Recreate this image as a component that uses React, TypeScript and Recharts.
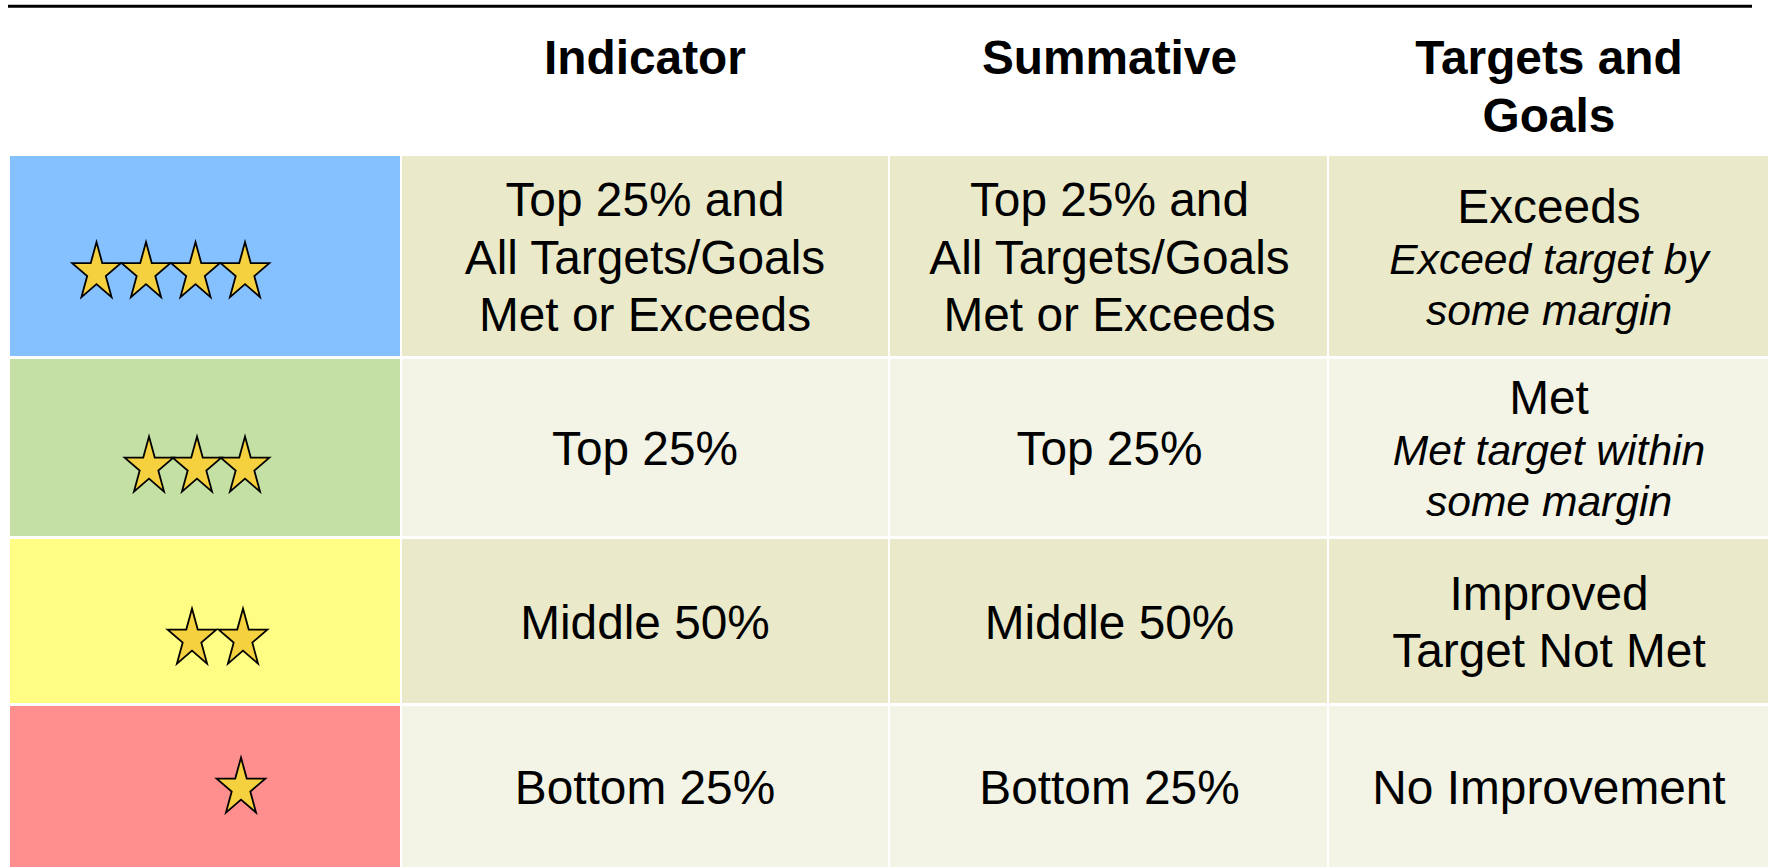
import React from "react";
import {
  ScatterChart,
  Scatter,
  XAxis,
  YAxis,
  ReferenceArea,
  ReferenceLine,
} from "recharts";

// ---------------- data ----------------
const headers: string[][] = [[], ["Indicator"], ["Summative"], ["Targets and", "Goals"]];
const starCounts: number[] = [4, 3, 2, 1];
const indicatorText: string[][] = [
  ["Top 25% and", "All Targets/Goals", "Met or Exceeds"],
  ["Top 25%"],
  ["Middle 50%"],
  ["Bottom 25%"],
];
const summativeText: string[][] = [
  ["Top 25% and", "All Targets/Goals", "Met or Exceeds"],
  ["Top 25%"],
  ["Middle 50%"],
  ["Bottom 25%"],
];
const targetTitle: string[][] = [["Exceeds"], ["Met"], ["Improved", "Target Not Met"], ["No Improvement"]];
const targetNote: string[][] = [["Exceed target by", "some margin"], ["Met target within", "some margin"], [], []];

// ---------------- layout & style ----------------
const W = 1768;
const H = 867;
const COL_EDGES = [10, 402, 890, 1329, 1771];
const COL_GAP = 2;
const ROW_EDGES = [156, 359, 539, 706, 870];
const ROW_GAP = 3;
const TEXT_SHIFT = [0, 0, 1, 0];
const HEADER_TOP = 8;
const HEADER_BOTTOM = 153;
const HEADER_FIRST_BASELINE = 66;
const TIER_COLORS = ["#86C1FF", "#C4E0A4", "#FFFD83", "#FF8F8E"];
const ROW_COLORS = ["#EAEACB", "#F3F4E5", "#EAEACB", "#F3F4E5"];
const STAR_CY = [272.5, 467, 639, 788];
const STAR_RIGHT = [245, 245, 243, 241];
const STAR_SPACING = [49.5, 48, 51, 0];
const STAR_RX = 25.6;
const STAR_RY = 30.4;
const FONT = "'Liberation Sans', Arial, Helvetica, sans-serif";
const FS = 47.8;
const FS_IT = 42.6;
const LINE_REG = 57.5;
const LINE_IT = 51;
const BASE_OFFSET = 17.5;

type Line = { text: string; italic?: boolean; bold?: boolean };

const starPoints = starCounts.flatMap((n, r) =>
  Array.from({ length: n }, (_, k) => ({
    x: STAR_RIGHT[r] - (n - 1 - k) * STAR_SPACING[r],
    y: STAR_CY[r],
  }))
);

function starPath(cx: number, cy: number) {
  const pts: string[] = [];
  const inner = 0.382;
  for (let i = 0; i < 10; i++) {
    const ang = -Math.PI / 2 + (i * Math.PI) / 5;
    const f = i % 2 === 0 ? 1 : inner;
    pts.push(`${(cx + Math.cos(ang) * STAR_RX * f).toFixed(2)},${(cy + Math.sin(ang) * STAR_RY * f).toFixed(2)}`);
  }
  return `M${pts.join("L")}Z`;
}

const StarShape = (props: any) => {
  const { cx, cy } = props;
  if (cx == null || cy == null) return <g />;
  return <path d={starPath(cx, cy)} fill="#F6D13F" stroke="#000" strokeWidth={1.8} strokeLinejoin="miter" />;
};

function gapAfter(a: Line, b: Line) {
  return a.italic || b.italic ? LINE_IT : LINE_REG;
}

function renderLines(lines: Line[], cx: number, firstBaseline: number) {
  let y = firstBaseline;
  return lines.map((l, i) => {
    if (i > 0) y += gapAfter(lines[i - 1], l);
    return (
      <text
        key={i}
        x={cx}
        y={y}
        textAnchor="middle"
        fontFamily={FONT}
        fontSize={l.italic ? FS_IT : FS}
        fontStyle={l.italic ? "italic" : "normal"}
        fontWeight={l.bold ? "bold" : "normal"}
        fill="#000"
      >
        {l.text}
      </text>
    );
  });
}

function cellLines(r: number, c: number): Line[] {
  if (c === 1) return indicatorText[r].map((t) => ({ text: t }));
  if (c === 2) return summativeText[r].map((t) => ({ text: t }));
  if (c === 3)
    return [
      ...targetTitle[r].map((t) => ({ text: t })),
      ...targetNote[r].map((t) => ({ text: t, italic: true })),
    ];
  return [];
}

const makeCellShape = (r: number, c: number) => (p: any) => {
  const { x, y, width, height } = p;
  const lines = cellLines(r, c);
  let span = 0;
  for (let i = 1; i < lines.length; i++) span += gapAfter(lines[i - 1], lines[i]);
  const cy = y + height / 2;
  const first = cy + BASE_OFFSET - span / 2;
  return (
    <g>
      <rect x={x} y={y} width={width} height={height} fill={c === 0 ? TIER_COLORS[r] : ROW_COLORS[r]} />
      {renderLines(lines, x + width / 2 + TEXT_SHIFT[c], first)}
    </g>
  );
};

const makeHeaderShape = (c: number) => (p: any) => {
  const { x, y, width } = p;
  const lines = headers[c].map((t) => ({ text: t, bold: true }));
  return <g>{renderLines(lines, x + width / 2 + TEXT_SHIFT[c], y + HEADER_FIRST_BASELINE)}</g>;
};

export default function App() {
  const cells: React.ReactNode[] = [];
  for (let c = 0; c < 4; c++) {
    cells.push(
      <ReferenceArea
        key={`h${c}`}
        x1={COL_EDGES[c]}
        x2={COL_EDGES[c + 1] - COL_GAP}
        y1={HEADER_TOP}
        y2={HEADER_BOTTOM}
        ifOverflow="visible"
        shape={makeHeaderShape(c)}
      />
    );
  }
  for (let r = 0; r < 4; r++) {
    for (let c = 0; c < 4; c++) {
      cells.push(
        <ReferenceArea
          key={`c${r}-${c}`}
          x1={COL_EDGES[c]}
          x2={COL_EDGES[c + 1] - COL_GAP}
          y1={ROW_EDGES[r]}
          y2={ROW_EDGES[r + 1] - ROW_GAP}
          ifOverflow="visible"
          shape={makeCellShape(r, c)}
        />
      );
    }
  }
  return (
    <div style={{ position: "absolute", left: 0, top: 0, width: W, height: H, background: "#fff" }}>
      <ScatterChart width={W} height={H} margin={{ top: 0, right: 0, bottom: 0, left: 0 }}>
        <XAxis type="number" dataKey="x" domain={[0, W]} hide allowDataOverflow />
        <YAxis type="number" dataKey="y" domain={[0, H]} reversed hide allowDataOverflow />
        <ReferenceLine
          segment={[
            { x: 8, y: 6.3 },
            { x: 1752, y: 6.3 },
          ]}
          stroke="#000"
          strokeWidth={3}
          ifOverflow="visible"
        />
        {cells}
        <Scatter data={starPoints} shape={StarShape} isAnimationActive={false} />
      </ScatterChart>
    </div>
  );
}
